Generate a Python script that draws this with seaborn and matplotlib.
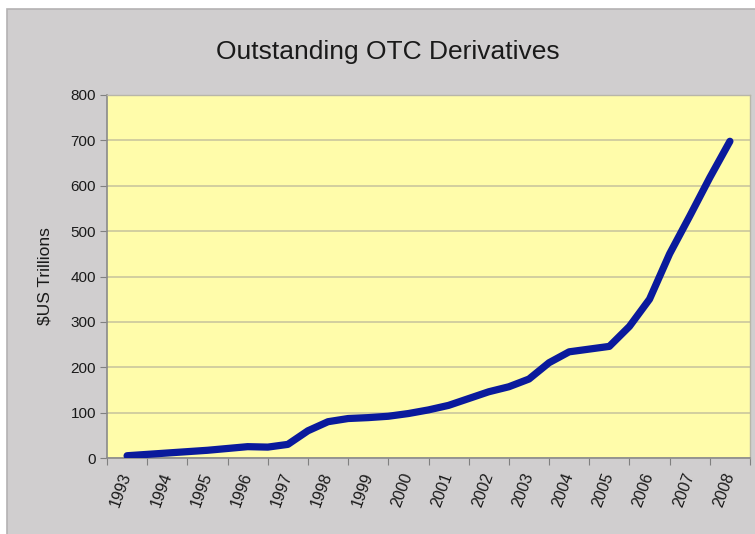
import matplotlib
matplotlib.use("Agg")
import matplotlib.pyplot as plt
from matplotlib.patches import Rectangle
import seaborn as sns
import numpy as np
import pandas as pd

# ---- data (half-year samples, $US trillions)
years = ['1993', '1994', '1995', '1996', '1997', '1998', '1999', '2000',
         '2001', '2002', '2003', '2004', '2005', '2006', '2007', '2008']
period = [1993, 1993.5, 1994, 1994.5, 1995, 1995.5, 1996, 1996.5,
          1997, 1997.5, 1998, 1998.5, 1999, 1999.5, 2000, 2000.5,
          2001, 2001.5, 2002, 2002.5, 2003, 2003.5, 2004, 2004.5,
          2005, 2005.5, 2006, 2006.5, 2007, 2007.5, 2008]
outstanding = [5, 8, 11, 14, 17, 21, 25, 24,
               30, 60, 80, 87, 89, 92, 98, 106,
               116, 131, 146, 157, 174, 210, 234, 240,
               246, 290, 350, 450, 533, 618, 698]
y_ticks = [0, 100, 200, 300, 400, 500, 600, 700, 800]

df = pd.DataFrame({'period': period, 'outstanding': outstanding})

plt.rcParams['font.family'] = ['Liberation Sans', 'DejaVu Sans']

W, H = 755, 534
fig = plt.figure(figsize=(W / 100, H / 100), dpi=100)
fig.patch.set_facecolor('white')
# grey chart area with a thin darker edge (Excel chart area)
fig.patches.append(Rectangle((7 / W, -0.05), 1, 1.05 - 9 / H, transform=fig.transFigure,
                             facecolor='#D0CECF', edgecolor='#B4B2B3', linewidth=1.2,
                             zorder=-10))

ax = fig.add_axes([107 / W, 1 - 458 / H, (750 - 107) / W, (458 - 95) / H])
ax.set_facecolor('#FFFCAA')

sns.lineplot(data=df, x='period', y='outstanding', ax=ax, color='#0A1A9C',
             linewidth=5.2, solid_capstyle='round', solid_joinstyle='round', zorder=3)

ax.set_xlim(1992.5, 2008.5)
ax.set_ylim(0, 800)
ax.set_yticks(y_ticks)
ax.set_yticklabels([str(v) for v in y_ticks], fontsize=11, color='#1a1a1a')
ax.grid(axis='y', color='#C6C29C', linewidth=1.1, zorder=1)
ax.set_axisbelow(True)

# category axis: tick marks between categories, labels at centres
year_num = [int(y) for y in years]
ax.set_xticks([v - 0.5 for v in year_num] + [year_num[-1] + 0.5])
ax.set_xticklabels([])
ax.set_xticks(year_num, minor=True)
ax.set_xticklabels(years, minor=True, rotation=70, rotation_mode='anchor',
                   ha='right', va='center', fontsize=11.5, color='#1a1a1a')
ax.tick_params(axis='x', which='major', length=5, color='#808080', direction='out')
ax.tick_params(axis='x', which='minor', length=0, pad=11)
ax.tick_params(axis='y', length=5, color='#808080', direction='out', pad=3)

for side in ['left', 'bottom']:
    ax.spines[side].set_color('#8A8A8A')
    ax.spines[side].set_linewidth(1.2)
for side in ['top', 'right']:
    ax.spines[side].set_color('#B8B6A8')
    ax.spines[side].set_linewidth(1.0)

ax.set_xlabel('')
ax.set_ylabel('$US Trillions', fontsize=12.5, color='#1a1a1a', labelpad=13)

fig.text(388 / W, 1 - 52 / H, 'Outstanding OTC Derivatives', fontsize=19,
         color='#1a1a1a', ha='center', va='center')

fig.savefig('out.png', dpi=100)
